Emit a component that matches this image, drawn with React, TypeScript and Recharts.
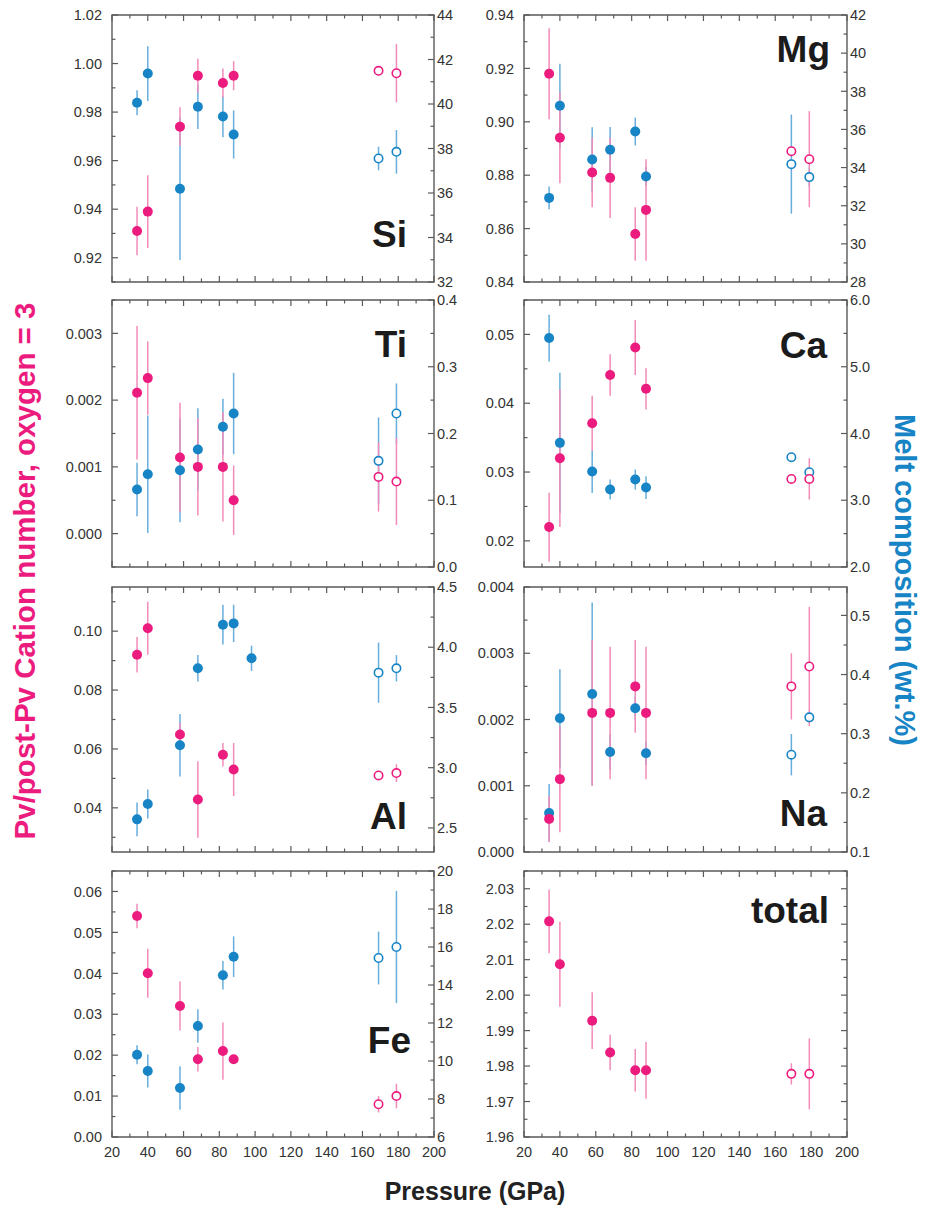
import React from 'react';
import { ScatterChart, Scatter, XAxis, YAxis, ErrorBar, ReferenceArea } from 'recharts';

const PINK = '#ec1c7f';
const PINK_BAR = '#f38bb9';
const BLUE = '#1784c5';
const BLUE_BAR = '#68aedd';
const INK = '#333333';
const FRAME = '#5a5a5a';
const FONT = '"Liberation Sans", Arial, Helvetica, sans-serif';

// pressures (GPa): six perovskite runs and two post-perovskite runs (open symbols)
const pressures = [34, 40, 58, 68, 82, 88, 169, 179];
const postPv = [false, false, false, false, false, false, true, true];
// the Al melt has one more run at 98 GPa
const alMeltPressures = [34, 40, 58, 68, 82, 88, 98, 169, 179];
const alMeltPostPv = [false, false, false, false, false, false, false, true, true];

const pressureTicks = [20, 40, 60, 80, 100, 120, 140, 160, 180, 200];
const pressureDomain: [number, number] = [20, 200];

// Si
const siPv = [0.931, 0.939, 0.974, 0.995, 0.992, 0.995, 0.997, 0.996];
const siPvErr = [0.01, 0.015, 0.008, 0.007, 0.006, 0.006, 0.002, 0.012];
const siMelt = [40.06, 41.37, 36.19, 39.88, 39.44, 38.63, 37.55, 37.85];
const siMeltErr = [0.56, 1.23, 3.2, 1.0, 0.93, 1.08, 0.53, 0.98];
const siLeftDomain: [number, number] = [0.91, 1.02];
const siLeftTicks = [0.92, 0.94, 0.96, 0.98, 1.0, 1.02];
const siRightDomain: [number, number] = [32, 44];
const siRightTicks = [32, 34, 36, 38, 40, 42, 44];

// Mg
const mgPv = [0.918, 0.894, 0.881, 0.879, 0.858, 0.867, 0.889, 0.886];
const mgPvErr = [0.017, 0.017, 0.013, 0.015, 0.01, 0.019, 0.001, 0.018];
const mgMelt = [32.41, 37.24, 34.42, 34.93, 35.89, 33.53, 34.18, 33.5];
const mgMeltErr = [0.6, 2.2, 1.7, 1.2, 0.73, 0.5, 2.6, 0.5];
const mgLeftDomain: [number, number] = [0.84, 0.94];
const mgLeftTicks = [0.84, 0.86, 0.88, 0.9, 0.92, 0.94];
const mgRightDomain: [number, number] = [28, 42];
const mgRightTicks = [28, 30, 32, 34, 36, 38, 40, 42];

// Ti
const tiPv = [0.00211, 0.00233, 0.00114, 0.001, 0.001, 0.0005, 0.00085, 0.00078];
const tiPvErr = [0.001, 0.00055, 0.00082, 0.00073, 0.00082, 0.00052, 0.00052, 0.00065];
const tiMelt = [0.116, 0.139, 0.145, 0.176, 0.21, 0.23, 0.159, 0.23];
const tiMeltErr = [0.04, 0.088, 0.078, 0.062, 0.042, 0.061, 0.065, 0.045];
const tiLeftDomain: [number, number] = [-0.0005, 0.0035];
const tiLeftTicks = [0, 0.001, 0.002, 0.003];
const tiRightDomain: [number, number] = [0, 0.4];
const tiRightTicks = [0, 0.1, 0.2, 0.3, 0.4];

// Ca
const caPv = [0.022, 0.032, 0.0371, 0.0441, 0.0481, 0.0421, 0.029, 0.029];
const caPvErr = [0.005, 0.01, 0.004, 0.003, 0.004, 0.003, 0.0005, 0.003];
const caMelt = [5.43, 3.86, 3.43, 3.16, 3.31, 3.19, 3.645, 3.42];
const caMeltErr = [0.35, 1.05, 0.32, 0.15, 0.15, 0.17, 0.02, 0.02];
const caLeftDomain: [number, number] = [0.0162, 0.055];
const caLeftTicks = [0.02, 0.03, 0.04, 0.05];
const caRightDomain: [number, number] = [2, 6];
const caRightTicks = [2, 3, 4, 5, 6];

// Al
const alPv = [0.092, 0.101, 0.0649, 0.0428, 0.058, 0.053, 0.051, 0.0518];
const alPvErr = [0.006, 0.009, 0.004, 0.013, 0.004, 0.009, 0.001, 0.003];
const alMelt = [2.571, 2.699, 3.186, 3.825, 4.187, 4.198, 3.908, 3.789, 3.825];
const alMeltErr = [0.14, 0.12, 0.26, 0.11, 0.165, 0.155, 0.105, 0.25, 0.11];
const alLeftDomain: [number, number] = [0.025, 0.115];
const alLeftTicks = [0.04, 0.06, 0.08, 0.1];
const alRightDomain: [number, number] = [2.3, 4.5];
const alRightTicks = [2.5, 3.0, 3.5, 4.0, 4.5];

// Na
const naPv = [0.0005, 0.0011, 0.0021, 0.0021, 0.0025, 0.0021, 0.0025, 0.0028];
const naPvErr = [0.00035, 0.0008, 0.0011, 0.001, 0.0007, 0.001, 0.0005, 0.0009];
const naMelt = [0.166, 0.326, 0.367, 0.269, 0.343, 0.267, 0.2645, 0.3276];
const naMeltErr = [0.049, 0.083, 0.155, 0.03, 0.02, 0.02, 0.035, 0.01];
const naLeftDomain: [number, number] = [0, 0.004];
const naLeftTicks = [0, 0.001, 0.002, 0.003, 0.004];
const naRightDomain: [number, number] = [0.1, 0.548];
const naRightTicks = [0.1, 0.2, 0.3, 0.4, 0.5];

// Fe
const fePv = [0.054, 0.04, 0.032, 0.019, 0.021, 0.019, 0.008, 0.01];
const fePvErr = [0.003, 0.006, 0.006, 0.003, 0.007, 0.0005, 0.002, 0.003];
const feMelt = [10.33, 9.47, 8.58, 11.84, 14.51, 15.49, 15.42, 16.0];
const feMeltErr = [0.5, 0.87, 1.15, 0.88, 0.75, 1.07, 1.39, 2.95];
const feLeftDomain: [number, number] = [0, 0.065];
const feLeftTicks = [0, 0.01, 0.02, 0.03, 0.04, 0.05, 0.06];
const feRightDomain: [number, number] = [6, 20];
const feRightTicks = [6, 8, 10, 12, 14, 16, 18, 20];

// total cations
const totalPv = [2.0208, 2.0087, 1.9928, 1.9838, 1.9788, 1.9788, 1.9778, 1.9778];
const totalPvErr = [0.009, 0.012, 0.008, 0.005, 0.006, 0.008, 0.003, 0.01];
const totalLeftDomain: [number, number] = [1.96, 2.035];
const totalLeftTicks = [1.96, 1.97, 1.98, 1.99, 2.0, 2.01, 2.02, 2.03];

type Pt = { p: number; v: number; e: number; post: boolean };

const toPoints = (ps: number[], vs: number[], es: number[], post: boolean[]): Pt[] =>
  vs.map((v, i) => ({ p: ps[i], v, e: es[i], post: post[i] }));

// major ticks plus a minor tick halfway between them
const withMinor = (major: number[], domain: [number, number]) => {
  const half = (major[1] - major[0]) / 2;
  let v = major[0];
  while (v - half >= domain[0] - half * 1e-3) v -= half;
  const out: number[] = [];
  for (; v <= domain[1] + half * 1e-3; v += half) out.push(+v.toFixed(7));
  return out;
};
const isMajor = (v: number, major: number[]) =>
  major.some((m) => Math.abs(m - v) < (major[1] - major[0]) * 1e-3);

const rows = [
  { top: 15, h: 267 },
  { top: 300, h: 267 },
  { top: 587, h: 265 },
  { top: 871, h: 266 },
];
const cols = [
  { left: 112, w: 322 },
  { left: 524, w: 323 },
];

const panels = [
  { name: 'Si', row: 0, col: 0, pv: siPv, pvErr: siPvErr, melt: siMelt, meltErr: siMeltErr,
    ld: siLeftDomain, lt: siLeftTicks, lDig: 2, rd: siRightDomain, rt: siRightTicks, rDig: 0, lx: 407, ly: 247 },
  { name: 'Mg', row: 0, col: 1, pv: mgPv, pvErr: mgPvErr, melt: mgMelt, meltErr: mgMeltErr,
    ld: mgLeftDomain, lt: mgLeftTicks, lDig: 2, rd: mgRightDomain, rt: mgRightTicks, rDig: 0, lx: 830, ly: 62 },
  { name: 'Ti', row: 1, col: 0, pv: tiPv, pvErr: tiPvErr, melt: tiMelt, meltErr: tiMeltErr,
    ld: tiLeftDomain, lt: tiLeftTicks, lDig: 3, rd: tiRightDomain, rt: tiRightTicks, rDig: 1, lx: 407, ly: 357 },
  { name: 'Ca', row: 1, col: 1, pv: caPv, pvErr: caPvErr, melt: caMelt, meltErr: caMeltErr,
    ld: caLeftDomain, lt: caLeftTicks, lDig: 2, rd: caRightDomain, rt: caRightTicks, rDig: 1, lx: 827, ly: 358 },
  { name: 'Al', row: 2, col: 0, pv: alPv, pvErr: alPvErr, melt: alMelt, meltErr: alMeltErr,
    meltP: alMeltPressures, meltPost: alMeltPostPv,
    ld: alLeftDomain, lt: alLeftTicks, lDig: 2, rd: alRightDomain, rt: alRightTicks, rDig: 1, lx: 407, ly: 829 },
  { name: 'Na', row: 2, col: 1, pv: naPv, pvErr: naPvErr, melt: naMelt, meltErr: naMeltErr,
    ld: naLeftDomain, lt: naLeftTicks, lDig: 3, rd: naRightDomain, rt: naRightTicks, rDig: 1, lx: 827, ly: 826 },
  { name: 'Fe', row: 3, col: 0, pv: fePv, pvErr: fePvErr, melt: feMelt, meltErr: feMeltErr,
    ld: feLeftDomain, lt: feLeftTicks, lDig: 2, rd: feRightDomain, rt: feRightTicks, rDig: 0, lx: 411, ly: 1053 },
  { name: 'total', row: 3, col: 1, pv: totalPv, pvErr: totalPvErr,
    ld: totalLeftDomain, lt: totalLeftTicks, lDig: 2, lx: 829, ly: 923 },
] as any[];

const LEFT_W = 60;
const RIGHT_W = 50;
const TOP_PAD = 10;
const X_H = 30;
const MAJOR_LEN = 6;
const MINOR_LEN = 3.5;

const labelStyle = { fontFamily: FONT, fontSize: 14.5, fill: INK };

const dot = (color: string) => (props: any) => {
  const { cx, cy, payload } = props;
  if (cx == null || cy == null) return <g />;
  if (payload.post) {
    return <circle cx={cx} cy={cy} r={4.2} fill="#ffffff" stroke={color} strokeWidth={1.6} />;
  }
  return <circle cx={cx} cy={cy} r={5} fill={color} />;
};

const Panel = ({ cfg }: { cfg: any }) => {
  const row = rows[cfg.row];
  const col = cols[cfg.col];
  const plotH = row.h;
  const plotW = col.w;
  const hasRight = !!cfg.melt;
  const width = LEFT_W + plotW + RIGHT_W;
  const height = TOP_PAD + plotH + X_H;
  const showX = cfg.row === 3;

  const pvData = toPoints(pressures, cfg.pv, cfg.pvErr, postPv);
  const meltData = hasRight
    ? toPoints(cfg.meltP || pressures, cfg.melt, cfg.meltErr, cfg.meltPost || postPv)
    : [];

  const xAll = withMinor(pressureTicks, pressureDomain);
  const lAll = withMinor(cfg.lt, cfg.ld);
  const rAll = hasRight ? withMinor(cfg.rt, cfg.rd) : [];

  const xTick = (props: any) => {
    const { x, y, payload } = props;
    const major = isMajor(payload.value, pressureTicks);
    const len = major ? MAJOR_LEN : MINOR_LEN;
    return (
      <g>
        <line x1={x} y1={y} x2={x} y2={y - len} stroke={FRAME} strokeWidth={1.2} />
        <line x1={x} y1={y - plotH} x2={x} y2={y - plotH + len} stroke={FRAME} strokeWidth={1.2} />
        {showX && major && (
          <text x={x} y={y + 20} textAnchor="middle" {...labelStyle}>
            {payload.value}
          </text>
        )}
      </g>
    );
  };

  const leftTick = (props: any) => {
    const { x, y, payload } = props;
    const major = isMajor(payload.value, cfg.lt);
    const len = major ? MAJOR_LEN : MINOR_LEN;
    return (
      <g>
        <line x1={x} y1={y} x2={x + len} y2={y} stroke={FRAME} strokeWidth={1.2} />
        {!hasRight && (
          <line x1={x + plotW} y1={y} x2={x + plotW - len} y2={y} stroke={FRAME} strokeWidth={1.2} />
        )}
        {major && (
          <text x={x - 10} y={y} dy="0.36em" textAnchor="end" {...labelStyle}>
            {payload.value.toFixed(cfg.lDig)}
          </text>
        )}
      </g>
    );
  };

  const rightTick = (props: any) => {
    const { x, y, payload } = props;
    const major = isMajor(payload.value, cfg.rt);
    const len = major ? MAJOR_LEN : MINOR_LEN;
    return (
      <g>
        <line x1={x} y1={y} x2={x - len} y2={y} stroke={FRAME} strokeWidth={1.2} />
        {major && (
          <text x={x + 3} y={y} dy="0.36em" textAnchor="start" {...labelStyle}>
            {payload.value.toFixed(cfg.rDig)}
          </text>
        )}
      </g>
    );
  };

  return (
    <div
      style={{
        position: 'absolute',
        left: col.left - LEFT_W,
        top: row.top - TOP_PAD,
        width,
        height,
      }}
    >
      <ScatterChart
        width={width}
        height={height}
        margin={{ top: TOP_PAD, right: hasRight ? 0 : RIGHT_W, bottom: 0, left: 0 }}
      >
        <XAxis
          type="number"
          dataKey="p"
          domain={pressureDomain}
          ticks={xAll}
          interval={0}
          tick={xTick}
          tickSize={0}
          tickMargin={0}
          tickLine={false}
          axisLine={false}
          height={X_H}
          allowDataOverflow
        />
        <YAxis
          yAxisId="left"
          type="number"
          dataKey="v"
          domain={cfg.ld}
          ticks={lAll}
          interval={0}
          tick={leftTick}
          tickSize={0}
          tickMargin={0}
          tickLine={false}
          axisLine={false}
          width={LEFT_W}
          allowDataOverflow
        />
        {hasRight && (
          <YAxis
            yAxisId="right"
            orientation="right"
            type="number"
            dataKey="v"
            domain={cfg.rd}
            ticks={rAll}
            interval={0}
            tick={rightTick}
            tickSize={0}
            tickMargin={0}
            tickLine={false}
            axisLine={false}
            width={RIGHT_W}
            allowDataOverflow
          />
        )}
        <ReferenceArea
          yAxisId="left"
          x1={pressureDomain[0]}
          x2={pressureDomain[1]}
          y1={cfg.ld[0]}
          y2={cfg.ld[1]}
          fill="none"
          fillOpacity={0}
          stroke={FRAME}
          strokeWidth={1.4}
        />
        {hasRight && (
          <Scatter yAxisId="right" data={meltData} shape={dot(BLUE)} isAnimationActive={false}>
            <ErrorBar dataKey="e" direction="y" width={0} stroke={BLUE_BAR} strokeWidth={1.5} />
          </Scatter>
        )}
        <Scatter yAxisId="left" data={pvData} shape={dot(PINK)} isAnimationActive={false}>
          <ErrorBar dataKey="e" direction="y" width={0} stroke={PINK_BAR} strokeWidth={1.5} />
        </Scatter>
      </ScatterChart>
    </div>
  );
};

export default function App() {
  return (
    <div
      style={{
        position: 'absolute',
        left: 0,
        top: 0,
        width: 925,
        height: 1209,
        background: '#ffffff',
        overflow: 'hidden',
      }}
    >
      {panels.map((cfg) => (
        <Panel key={cfg.name} cfg={cfg} />
      ))}
      <svg
        width={925}
        height={1209}
        style={{ position: 'absolute', left: 0, top: 0, pointerEvents: 'none' }}
      >
        {panels.map((cfg) => (
          <text
            key={cfg.name}
            x={cfg.lx}
            y={cfg.ly}
            textAnchor="end"
            fontFamily={FONT}
            fontWeight="bold"
            fontSize={37}
            fill="#1b1b1b"
          >
            {cfg.name}
          </text>
        ))}
        <text
          transform="translate(35, 571) rotate(-90)"
          textAnchor="middle"
          fontFamily={FONT}
          fontWeight="bold"
          fontSize={29.5}
          fill={PINK}
        >
          Pv/post-Pv Cation number, oxygen = 3
        </text>
        <text
          transform="translate(895, 580) rotate(90)"
          textAnchor="middle"
          fontFamily={FONT}
          fontWeight="bold"
          fontSize={29}
          fill={BLUE}
        >
          Melt composition (wt.%)
        </text>
        <text
          x={475}
          y={1200}
          textAnchor="middle"
          fontFamily={FONT}
          fontWeight="bold"
          fontSize={25}
          fill="#222222"
        >
          Pressure (GPa)
        </text>
      </svg>
    </div>
  );
}
